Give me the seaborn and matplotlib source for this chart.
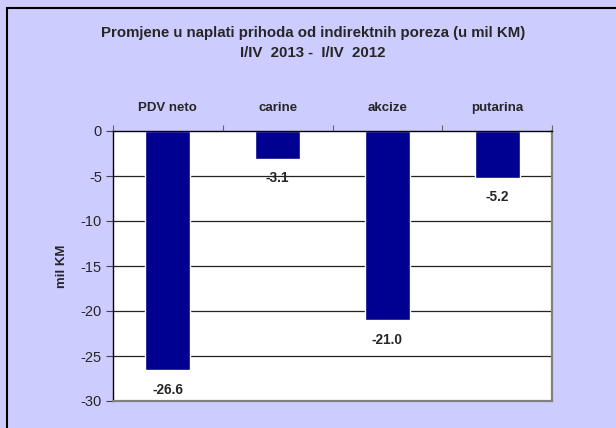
import seaborn as sns
from matplotlib import pyplot as plt
from matplotlib.patches import Rectangle
import pandas as pd

# promjene u naplati prihoda
categories = ['PDV neto', 'carine', 'akcize', 'putarina']
values = [-26.6, -3.1, -21.0, -5.2]
yticks = [0, -5, -10, -15, -20, -25, -30]

df = pd.DataFrame({'kategorija': categories, 'vrijednost': values})

sns.set_style('white')
plt.rcParams['font.family'] = ['Liberation Sans', 'DejaVu Sans']

fig = plt.figure(figsize=(6.16, 4.28), dpi=100)
fig.patch.set_facecolor('#ccccff')
fig.patches.append(Rectangle((7/616, -0.1), 1.2, 1 - 8/428 + 0.1, transform=fig.transFigure,
                             fill=False, edgecolor='black', linewidth=1.5))

ax = fig.add_axes([113/616, 1 - 401/428, (552 - 113)/616, (401 - 131)/428])
ax.set_facecolor('white')
sns.barplot(data=df, x='kategorija', y='vrijednost', color='#000091', width=0.41,
            saturation=1, ax=ax, zorder=3)

ax.set_ylim(-30, 0)
ax.set_xlim(-0.5, 3.5)
ax.set_yticks(yticks)
ax.set_yticklabels([str(t) for t in yticks], fontsize=10.5)
ax.tick_params(axis='y', direction='out', length=5, width=0.8, color='#444444', left=True, pad=3)
for t in yticks[1:-1]:
    ax.axhline(t, color='#222222', linewidth=0.9, zorder=1)

ax.xaxis.tick_top()
ax.set_xticks([-0.5, 0.5, 1.5, 2.5, 3.5])
ax.set_xticklabels([])
ax.set_xticks([0, 1, 2, 3], minor=True)
ax.set_xticklabels(categories, minor=True, fontsize=9.5, fontweight='bold')
ax.tick_params(axis='x', which='major', direction='out', length=4, width=0.8, color='#666666', top=True)
ax.tick_params(axis='x', which='minor', length=0, pad=12)
ax.set_xlabel('')
ax.set_ylabel('mil KM', fontsize=9.5, fontweight='bold')
ax.yaxis.set_label_coords(-0.103, 0.5)

for side in ['top', 'left']:
    ax.spines[side].set_color('black')
    ax.spines[side].set_linewidth(1.0)
for side in ['right', 'bottom']:
    ax.spines[side].set_color('#808080')
    ax.spines[side].set_linewidth(1.6)
ax.spines['top'].set_zorder(4)

ax.bar_label(ax.containers[0], labels=['%.1f' % v for v in values], padding=9,
             fontsize=9.8, fontweight='bold')

fig.text(313/616, 1 - 33/428, 'Promjene u naplati prihoda od indirektnih poreza (u mil KM)',
         ha='center', va='center', fontsize=10.8, fontweight='bold')
fig.text(313/616, 1 - 53/428, 'I/IV  2013 -  I/IV  2012',
         ha='center', va='center', fontsize=10.8, fontweight='bold')

fig.savefig('out.png', dpi=100, facecolor=fig.get_facecolor())
